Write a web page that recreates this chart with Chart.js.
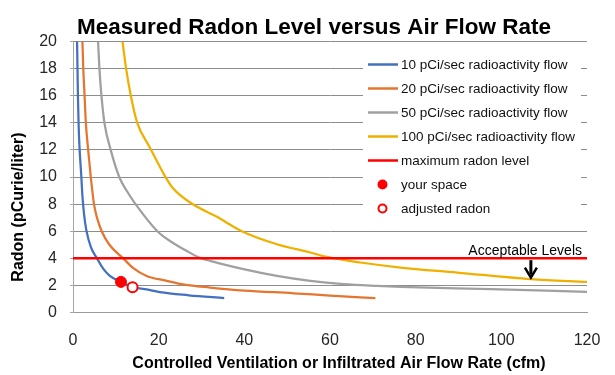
<!DOCTYPE html>
<html>
<head>
<meta charset="utf-8">
<script src="https://cdn.jsdelivr.net/npm/chart.js@4.4.1/dist/chart.umd.min.js"></script>
<style>
  html, body { margin: 0; padding: 0; background: #fff; }
  #wrap { width: 615px; height: 375px; }
</style>
</head>
<body>
<div id="wrap"><canvas id="radonchart"></canvas></div>
<script>
// curves: [air flow (cfm), radon (pCi/L)]
const flow10 = [[0.95, 20], [1.05, 18], [1.15, 16], [1.3, 14], [1.5, 12.3], [1.95, 10], [2.2, 8.6], [2.6, 7.2],
  [3.1, 6.1], [4.2, 4.8], [5.6, 4], [7, 3.25], [8.6, 2.7], [11.2, 2.26], [13.9, 1.88], [17.8, 1.67],
  [20.3, 1.5], [27, 1.27], [35.3, 1.06]];
const flow20 = [[2.2, 20], [2.4, 18], [2.7, 16], [3.0, 14], [3.45, 12.3], [4.15, 10], [4.9, 8], [5.6, 7],
  [6.7, 6], [8.5, 5], [11.7, 4], [14, 3.3], [17.2, 2.7], [21.7, 2.35], [26, 2.05], [32, 1.84], [40, 1.62],
  [51.5, 1.42], [60, 1.25], [70.6, 1.06]];
const flow50 = [[5.85, 20], [6.17, 18], [6.64, 16], [7.34, 14], [8.8, 12], [10.8, 10], [12.5, 9], [14.6, 8],
  [19.7, 6], [23, 5.2], [26.5, 4.55], [29.5, 4.05], [32, 3.81], [39.8, 3.2], [47.6, 2.7], [55.4, 2.33],
  [63.2, 2.09], [71, 1.96], [76.5, 1.89], [97.5, 1.72], [120, 1.52]];
const flow100 = [[11.56, 20], [12.4, 18], [13.5, 16], [15, 14], [17.9, 12.2], [21.5, 10.05], [23.4, 9.15],
  [27.7, 8.04], [33.6, 7.06], [39.4, 6.0], [47.6, 5.04], [55.4, 4.43], [59.3, 4.1], [67.1, 3.69],
  [76.5, 3.32], [89.7, 2.95], [106.9, 2.46], [120, 2.26]];
const maxRadon = [[0, 4], [120, 4]];
const yourSpace = [[11.2, 2.26]];
const adjustedRadon = [[13.9, 1.87]];

const seriesLabels = ['10 pCi/sec radioactivity flow', '20 pCi/sec radioactivity flow',
  '50 pCi/sec radioactivity flow', '100 pCi/sec radioactivity flow', 'maximum radon level',
  'your space', 'adjusted radon'];
const chartTitle = 'Measured Radon Level versus Air Flow Rate';
const xTitle = 'Controlled Ventilation or Infiltrated Air Flow Rate (cfm)';
const yTitle = 'Radon (pCurie/liter)';
const noteText = 'Acceptable Levels';
const noteArrow = [106.9, 3.86, 2.5]; // x, from radon, to radon

const FONT = '"Liberation Sans", Arial, sans-serif';
const pts = a => a.map(p => ({ x: p[0], y: p[1] }));

function curve(label, data, color) {
  return {
    label: label, data: pts(data), borderColor: color, backgroundColor: color,
    borderWidth: 2.25, pointRadius: 0, cubicInterpolationMode: 'monotone', order: 3
  };
}

// legend drawn inside the plot on a white box
const legendBox = {
  id: 'legendBox',
  afterDatasetsDraw(chart) {
    const ctx = chart.ctx;
    ctx.save();
    ctx.fillStyle = '#fff';
    ctx.fillRect(363, 48, 218, 172);
    ctx.font = '13.5px ' + FONT;
    ctx.textBaseline = 'middle';
    chart.data.datasets.forEach((ds, i) => {
      const y = 64.5 + i * 24;
      if (ds.showLine === false) {
        ctx.beginPath();
        ctx.arc(382.5, y, 4, 0, Math.PI * 2);
        ctx.fillStyle = ds.pointBackgroundColor;
        ctx.fill();
        ctx.lineWidth = 2;
        ctx.strokeStyle = ds.pointBorderColor;
        ctx.stroke();
      } else {
        ctx.beginPath();
        ctx.moveTo(368, y);
        ctx.lineTo(398, y);
        ctx.lineWidth = 2.5;
        ctx.strokeStyle = ds.borderColor;
        ctx.stroke();
      }
      ctx.fillStyle = '#111';
      ctx.fillText(ds.label, 401, y + 1);
    });
    ctx.restore();
  }
};

const texts = {
  id: 'texts',
  afterDraw(chart) {
    const ctx = chart.ctx;
    const xs = chart.scales.x, ys = chart.scales.y;
    ctx.save();
    ctx.fillStyle = '#000';
    ctx.textAlign = 'center';
    ctx.textBaseline = 'alphabetic';
    ctx.font = 'bold 22.5px ' + FONT;
    ctx.fillText(chartTitle, 314, 34);
    ctx.font = 'bold 16px ' + FONT;
    ctx.fillText(xTitle, 339, 368);
    ctx.save();
    ctx.translate(23, 207);
    ctx.rotate(-Math.PI / 2);
    ctx.fillText(yTitle, 0, 0);
    ctx.restore();

    // "Acceptable Levels" with arrow down
    ctx.font = '14px ' + FONT;
    ctx.textAlign = 'right';
    ctx.fillText(noteText, xs.right - 5, ys.getPixelForValue(4) - 3);
    const ax = xs.getPixelForValue(noteArrow[0]);
    const y0 = ys.getPixelForValue(noteArrow[1]);
    const y1 = ys.getPixelForValue(noteArrow[2]);
    ctx.strokeStyle = '#000';
    ctx.lineWidth = 3;
    ctx.beginPath();
    ctx.moveTo(ax, y0);
    ctx.lineTo(ax, y1 - 4);
    ctx.stroke();
    ctx.lineWidth = 2.5;
    ctx.beginPath();
    ctx.moveTo(ax - 6, y1 - 11);
    ctx.lineTo(ax, y1 - 1);
    ctx.lineTo(ax + 6, y1 - 11);
    ctx.stroke();
    ctx.restore();
  }
};

new Chart(document.getElementById('radonchart'), {
  type: 'line',
  plugins: [legendBox, texts],
  data: {
    datasets: [
      curve(seriesLabels[0], flow10, '#4470C0'),
      curve(seriesLabels[1], flow20, '#E5762F'),
      curve(seriesLabels[2], flow50, '#A0A0A0'),
      curve(seriesLabels[3], flow100, '#F0B000'),
      {
        label: seriesLabels[4], data: pts(maxRadon), borderColor: '#FF0000', backgroundColor: '#FF0000',
        borderWidth: 2.5, pointRadius: 0, order: 2
      },
      {
        label: seriesLabels[5], data: pts(yourSpace), showLine: false, pointRadius: 5.5,
        pointBackgroundColor: '#FF0000', pointBorderColor: '#FF0000', pointBorderWidth: 1, order: 1
      },
      {
        label: seriesLabels[6], data: pts(adjustedRadon), showLine: false, pointRadius: 5,
        pointBackgroundColor: '#FFFFFF', pointBorderColor: '#FF0000', pointBorderWidth: 2, order: 1
      }
    ]
  },
  options: {
    responsive: true,
    maintainAspectRatio: false,
    animation: false,
    layout: { padding: { top: 41.5, right: 28, left: 0, bottom: 0 } },
    plugins: {
      legend: { display: false },
      tooltip: { enabled: false },
      title: { display: false }
    },
    scales: {
      x: {
        type: 'linear',
        min: 0,
        max: 120,
        afterFit(scale) { scale.height = 62.5; },
        border: { display: true, color: '#9a9a9a', width: 1 },
        grid: { display: false },
        ticks: { stepSize: 20, padding: 10, color: '#262626', font: { family: FONT, size: 16 } }
      },
      y: {
        min: 0,
        max: 20,
        afterFit(scale) { scale.width = 73; },
        border: { display: true, color: '#a6a6a6', width: 1 },
        grid: { color: '#8c8c8c', lineWidth: 1, tickLength: 3, tickColor: '#a6a6a6' },
        ticks: { stepSize: 2, padding: 13, color: '#262626', font: { family: FONT, size: 16 } }
      }
    }
  }
});
</script>
</body>
</html>
